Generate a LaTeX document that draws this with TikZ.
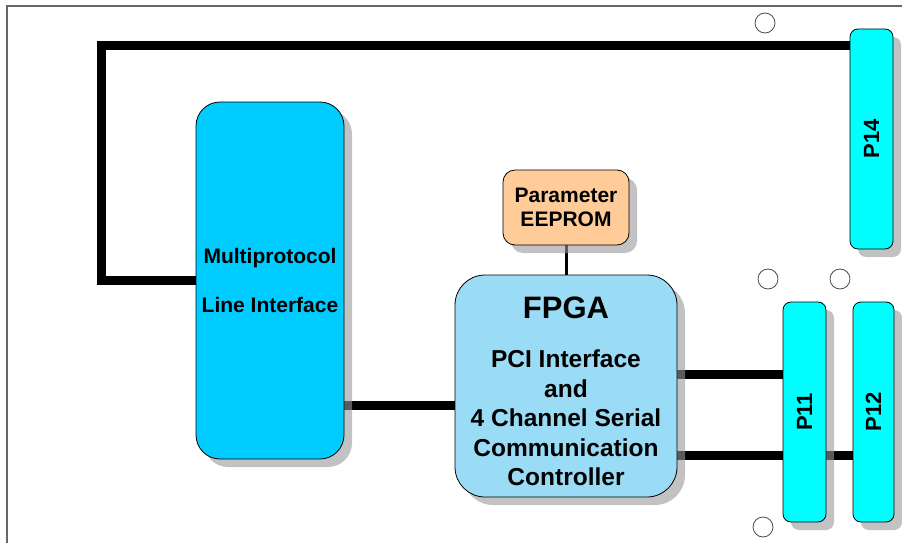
\documentclass[tikz,border=0pt]{standalone}
\usepackage{fontspec}
\setmainfont{Liberation Sans}
\usetikzlibrary{shapes}
\usetikzlibrary{calc}
\usetikzlibrary{shadows}
\usetikzlibrary{backgrounds}

\definecolor{multiblue}{HTML}{00CCFF}
\definecolor{fpgablue}{HTML}{9ADCF5}
\definecolor{conncyan}{HTML}{00FFFF}
\definecolor{eepromtan}{HTML}{FFCC99}

\tikzset{
  block/.style={draw, rectangle, rounded corners=#1, line width=0.8pt, inner sep=0pt,
    align=center, drop shadow={shadow xshift=8pt, shadow yshift=-8pt, fill=black!40, opacity=0.6}},
  block/.default=10pt,
  conn/.style={block=8pt, fill=conncyan, minimum width=43pt, minimum height=220pt,
    font=\bfseries\fontsize{22}{22}\selectfont},
  hole/.style={draw=black!70, fill=white, circle, minimum size=20pt, inner sep=0pt, line width=0.8pt},
  bus/.style={line width=9pt, black}
}

\begin{document}
\begin{tikzpicture}[x=1pt, y=-1pt]
  \useasboundingbox (0,0) rectangle (902,543);
  \draw[black!60, line width=1.2pt] (7,543) -- (7,6) -- (902,6);

  \node[block=24pt, fill=multiblue, minimum width=148pt, minimum height=357pt,
    font=\bfseries\fontsize{21}{49}\selectfont] (multi) at (270,280.5) {Multiprotocol\\Line Interface};
  \node[block=30pt, fill=fpgablue, minimum width=222pt, minimum height=222pt,
    font=\bfseries\fontsize{24.5}{29.5}\selectfont] (fpga) at (566,386)
    {\rule{0pt}{33pt}{\fontsize{31}{31}\selectfont FPGA}\\[19.5pt]PCI Interface\\and\\4 Channel Serial\\Communication\\Controller};
  \node[block=12pt, fill=eepromtan, minimum width=126pt, minimum height=75pt,
    font=\bfseries\fontsize{21}{24}\selectfont] (eeprom) at (566,207.5) {Parameter\\EEPROM};

  \node[conn] (p14) at (871.5,139) {\rotatebox{90}{P14}};
  \node[conn] (p11) at (804.5,412) {\rotatebox{90}{P11}};
  \node[conn, minimum width=41pt] (p12) at (873.5,412) {\rotatebox{90}{P12}};

  \node[hole] (hole1) at (765,23) {};
  \node[hole] (hole2) at (768,279) {};
  \node[hole] (hole3) at (840,279) {};
  \node[hole] (hole4) at (763,527) {};

  \coordinate (loopbot) at (101,280.5);
  \coordinate (looptop) at (101,46);
  \coordinate (lineif) at (400,405);
  \coordinate (serA) at (730,374);
  \coordinate (serB) at (730,455);

  \begin{pgfonlayer}{background}
    \draw[bus] (multi.west) -- (loopbot) -- (looptop) -- (looptop -| p14.west);
    \draw[bus] (lineif -| multi.east) -- (lineif -| fpga.west);
    \draw[bus] (serA -| fpga.east) -- (serA -| p11.west);
    \draw[bus] (serB -| fpga.east) -- (serB -| p12.west);
    \draw[line width=3pt] (eeprom.south) -- (fpga.north);
  \end{pgfonlayer}
\end{tikzpicture}
\end{document}
